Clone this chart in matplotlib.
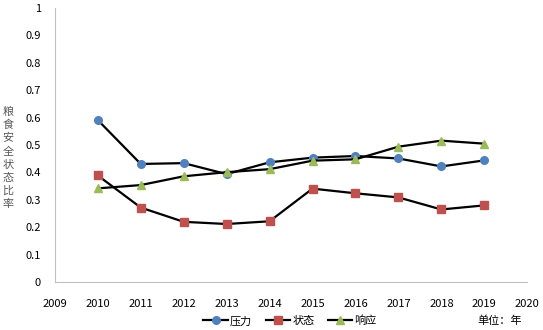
import matplotlib
matplotlib.use("Agg")
import matplotlib.pyplot as plt

plt.rcParams['font.family'] = ['Noto Sans CJK SC', 'DejaVu Sans']

years = [2010, 2011, 2012, 2013, 2014, 2015, 2016, 2017, 2018, 2019]
pressure = [0.591, 0.431, 0.434, 0.394, 0.437, 0.454, 0.460, 0.451, 0.422, 0.444]
state = [0.389, 0.272, 0.220, 0.212, 0.222, 0.341, 0.324, 0.309, 0.265, 0.280]
response = [0.342, 0.354, 0.386, 0.401, 0.412, 0.443, 0.448, 0.494, 0.516, 0.505]
series_names = ['压力', '状态', '响应']
ylabel = '粮食安全状态比率'
unit_label = '单位：年'

fig = plt.figure(figsize=(5.43, 3.30), dpi=100)
ax = fig.add_axes([0.101, 0.145, 0.870, 0.831])

colors = ['#4F81BD', '#C0504D', '#9BBB59']
markers = ['o', 's', '^']
for vals, c, m, name in zip([pressure, state, response], colors, markers, series_names):
    ax.plot(years, vals, color='black', lw=1.6, marker=m, markersize=5.5,
            markerfacecolor=c, markeredgecolor=c, label=name)

ax.set_xlim(2009, 2020)
ax.set_ylim(0, 1)
ax.set_xticks(range(2009, 2021))
ax.set_yticks([0, 0.1, 0.2, 0.3, 0.4, 0.5, 0.6, 0.7, 0.8, 0.9, 1])
ax.set_yticklabels(['0', '0.1', '0.2', '0.3', '0.4', '0.5', '0.6', '0.7', '0.8', '0.9', '1'])
ax.tick_params(length=0, labelsize=8, colors='black')
ax.tick_params(axis='x', pad=12)
ax.tick_params(axis='y', pad=10)
for s in ['top', 'right']:
    ax.spines[s].set_visible(False)
for s in ['left', 'bottom']:
    ax.spines[s].set_color('#BFBFBF')
    ax.spines[s].set_linewidth(0.8)

# vertical stacked y label, one character per row
n = len(ylabel)
top_px, bot_px = 112, 204
for i, ch in enumerate(ylabel):
    ypx = top_px + (bot_px - top_px) * i / (n - 1)
    fig.text(8/543, 1 - ypx/330, ch, ha='center', va='center',
             fontsize=8, color='#595959')

fig.legend(loc='center', bbox_to_anchor=(290/543, 1 - 321/330), ncol=3,
           frameon=False, fontsize=8, handlelength=2.2, handletextpad=0.2,
           columnspacing=1.2)
fig.text(500/543, 1 - 321/330, unit_label, ha='center', va='center', fontsize=8, color='black')

fig.savefig('out.png', dpi=100)
